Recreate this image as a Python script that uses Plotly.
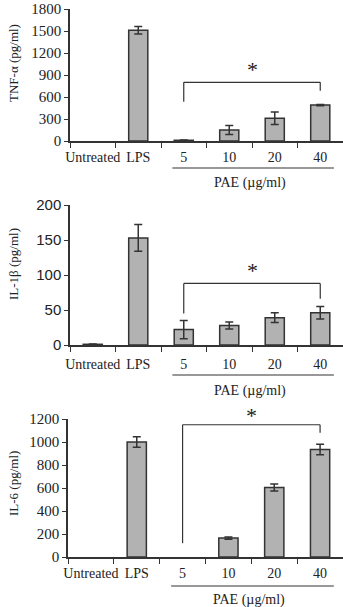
import plotly.graph_objects as go

categories = ["Untreated", "LPS", "5", "10", "20", "40"]

tnf = [0, 1510, 10, 150, 310, 490]
tnf_err = [None, 50, 4, 60, 85, 8]
il1b = [1, 153, 22, 28, 39, 46]
il1b_err = [0.5, 19, 13, 5, 7, 9]
il6 = [0, 1000, 0, 165, 605, 935]
il6_err = [None, 45, None, 10, 30, 45]

titles = ["TNF-α (pg/ml)", "IL-1β (pg/ml)", "IL-6 (pg/ml)"]
y_max = [1800, 200, 1200]
y_dtick = [300, 50, 200]
# bracket: [top, left-leg end, right-leg end, star position]
brackets = [[800, 535, 685, 970], [88, 45, 66, 106], [1150, 120, 1080, 1230]]
group_label = "PAE (µg/ml)"

H, W = 607, 343
# pixel layout of the three panels: (top px, bottom px)
panels = [(9, 141), (205, 345), (419, 557)]
x_left = [70, 70, 68]
tick_fonts = [("Liberation Serif", 15), ("Liberation Sans", 15), ("Liberation Serif", 15)]
label_standoff = [2, 5, 2]
underline_px = [168, 375, 586]
pae_px = [183, 391, 600]
title_center_px = [63, 264, 484]

series = [(tnf, tnf_err), (il1b, il1b_err), (il6, il6_err)]
ink = "#333333"

fig = go.Figure()
for i, (vals, errs) in enumerate(series):
    n = "" if i == 0 else str(i + 1)
    top, bot = panels[i]
    d0, d1 = 1 - bot / H, 1 - top / H
    fig.add_trace(go.Bar(
        x=categories, y=vals,
        marker=dict(color="#b2b2b2",
                    line=dict(color=ink, width=[1.5 if v > 0 else 0 for v in vals])),
        xaxis="x" + n, yaxis="y" + n, showlegend=False,
    ))
    keep = [k for k, e in enumerate(errs) if e is not None]
    fig.add_trace(go.Scatter(
        x=[categories[k] for k in keep], y=[vals[k] for k in keep],
        mode="markers", marker=dict(size=0.1, opacity=0),
        error_y=dict(type="data", array=[errs[k] for k in keep], visible=True,
                     color=ink, thickness=1.5, width=4),
        xaxis="x" + n, yaxis="y" + n, showlegend=False, hoverinfo="skip",
    ))
    fig.layout["xaxis" + n] = dict(
        domain=[x_left[i] / W, 1], anchor="y" + n, type="category",
        categoryorder="array", categoryarray=categories,
        range=[-0.5, 5.5], showline=True, linecolor=ink, linewidth=1.5,
        ticks="outside", tickson="boundaries", ticklen=5, tickcolor=ink,
        tickwidth=1.2, showgrid=False, zeroline=False, tickangle=0,
        automargin=False,
        tickfont=dict(family="Liberation Serif", size=14, color="#222"),
        ticklabelstandoff=label_standoff[i],
    )
    fig.layout["yaxis" + n] = dict(
        domain=[d0, d1], anchor="x" + n, automargin=False,
        ticklabeloverflow="allow",
        tickmode="array",
        tickvals=list(range(0, y_max[i] + 1, y_dtick[i])),
        ticktext=[str(v) for v in range(0, y_max[i] + 1, y_dtick[i])],
        range=[0, y_max[i]], showline=True, linecolor=ink,
        linewidth=1.5, ticks="outside", ticklen=4, tickcolor=ink, tickwidth=1.2,
        showgrid=False, zeroline=False,
        tickfont=dict(family=tick_fonts[i][0], size=tick_fonts[i][1], color="#222"),
    )
    b = brackets[i]
    xr, yr = "x" + n, "y" + n
    fig.add_shape(type="line", xref=xr, yref=yr, x0=2, x1=5, y0=b[0], y1=b[0],
                  line=dict(color=ink, width=1.2))
    fig.add_shape(type="line", xref=xr, yref=yr, x0=2, x1=2, y0=b[0], y1=b[1],
                  line=dict(color=ink, width=1.2))
    fig.add_shape(type="line", xref=xr, yref=yr, x0=5, x1=5, y0=b[0], y1=b[2],
                  line=dict(color=ink, width=1.2))
    star_y = d0 + b[3] / y_max[i] * (d1 - d0)
    fig.add_annotation(x=3.5, y=star_y, xref=xr, yref="paper", text="*",
                       showarrow=False, yanchor="middle",
                       font=dict(family="Liberation Serif", size=22, color="#222"))
    fig.add_shape(type="line", xref=xr, yref="paper", x0=1.75, x1=5.3,
                  y0=1 - underline_px[i] / H, y1=1 - underline_px[i] / H,
                  line=dict(color=ink, width=1.2))
    fig.add_annotation(x=3.45, y=1 - pae_px[i] / H, xref=xr, yref="paper",
                       text=group_label, showarrow=False, yanchor="middle",
                       font=dict(family="Liberation Serif", size=14, color="#222"))
    fig.add_annotation(x=13 / W, y=1 - title_center_px[i] / H, xref="paper",
                       yref="paper", text=titles[i], textangle=-90,
                       showarrow=False, xanchor="center", yanchor="middle",
                       font=dict(family="Liberation Serif", size=13, color="#222"))

fig.update_layout(
    width=W, height=H, margin=dict(l=0, r=0, t=0, b=0),
    paper_bgcolor="white", plot_bgcolor="white", bargap=0.58,
)
fig.write_html("out.html")
